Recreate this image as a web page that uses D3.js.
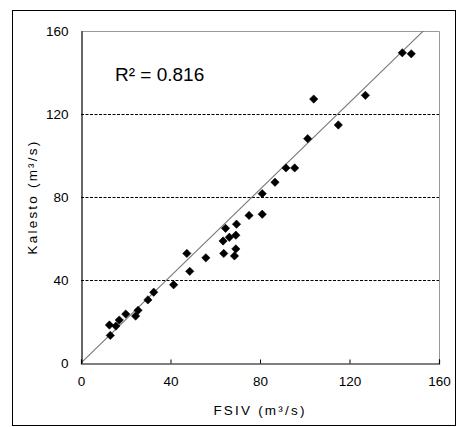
<!DOCTYPE html>
<html>
<head>
<meta charset="utf-8">
<script src="https://cdn.jsdelivr.net/npm/d3@7"></script>
<style>
  html, body { margin: 0; padding: 0; background: #fff; }
  svg { display: block; font-family: Arial, "Liberation Sans", sans-serif; }
</style>
</head>
<body>
<div id="chart"></div>
<script>
// FSIV vs Kalesto discharge (m3/s)
const fsiv = [12.7, 13.1, 15.6, 17.1, 20.0, 24.4, 25.5, 29.9, 32.5, 41.4, 47.3, 48.6,
  55.8, 63.5, 64.6, 63.8, 66.3, 69.2, 69.5, 69.2, 68.6, 75.1, 81.0, 81.0,
  86.7, 91.6, 95.5, 101.3, 104.0, 115.0, 127.1, 143.6, 147.6];
const kalesto = [18.3, 13.3, 17.8, 20.7, 23.6, 22.6, 25.4, 30.4, 34.1, 37.7, 52.8, 44.2,
  50.7, 58.8, 64.9, 52.8, 60.6, 61.6, 66.9, 55.0, 51.6, 71.1, 71.7, 81.6,
  87.1, 94.0, 94.0, 108.1, 127.2, 114.7, 129.0, 149.5, 149.0];
const ticks = [0, 40, 80, 120, 160];
const gridTicks = [40, 80, 120];
const slope = 1.046;   // fitted line through origin
const r2Label = 'R² = 0.816';

const width = 457, height = 427;
const margin = { left: 81, right: 18, top: 31, bottom: 64 };

const svg = d3.select('#chart').append('svg')
  .attr('width', width)
  .attr('height', height);

// outer frame
svg.append('rect')
  .attr('x', 12.5).attr('y', 10.5)
  .attr('width', 443).attr('height', 415)
  .attr('fill', 'none')
  .attr('stroke', '#000')
  .attr('stroke-width', 1);

const x = d3.scaleLinear().domain([0, 160]).range([margin.left, width - margin.right]);
const y = d3.scaleLinear().domain([0, 160]).range([height - margin.bottom, margin.top]);

// top and right border of the plot area
svg.append('path')
  .attr('d', `M${x(0)},${y(160) + 0.5}H${x(160) + 0.5}V${y(0)}`)
  .attr('fill', 'none')
  .attr('stroke', '#999')
  .attr('stroke-width', 1);

// dashed gridlines
svg.append('g')
  .selectAll('line')
  .data(gridTicks)
  .join('line')
  .attr('x1', x(0)).attr('x2', x(160))
  .attr('y1', d => Math.round(y(d)) + 0.5)
  .attr('y2', d => Math.round(y(d)) + 0.5)
  .attr('stroke', '#000')
  .attr('stroke-width', 1)
  .attr('stroke-dasharray', '3,1.5');

// fitted line, clipped to the plot
svg.append('clipPath').attr('id', 'plot-clip')
  .append('rect')
  .attr('x', x(0)).attr('y', y(160))
  .attr('width', x(160) - x(0)).attr('height', y(0) - y(160));

svg.append('line')
  .attr('clip-path', 'url(#plot-clip)')
  .attr('x1', x(0)).attr('y1', y(0))
  .attr('x2', x(160)).attr('y2', y(160 * slope))
  .attr('stroke', '#777')
  .attr('stroke-width', 1.1);

// x axis
const xAxis = svg.append('g')
  .attr('transform', `translate(0,${y(0) + 0.5})`)
  .call(d3.axisBottom(x).tickValues(ticks).tickSize(-4).tickPadding(13));
xAxis.select('.domain').attr('stroke', '#000').attr('stroke-width', 1.2);
xAxis.selectAll('line').attr('stroke', '#000');
xAxis.selectAll('text').attr('font-size', '13.5px').attr('fill', '#000')
  .attr('font-family', 'Arial, "Liberation Sans", sans-serif');

// y axis
const yAxis = svg.append('g')
  .attr('transform', `translate(${x(0) + 0.5},0)`)
  .call(d3.axisLeft(y).tickValues(ticks).tickSize(0).tickPadding(13));
yAxis.select('.domain').attr('stroke', '#000').attr('stroke-width', 1.2);
yAxis.selectAll('text').attr('font-size', '13.5px').attr('fill', '#000')
  .attr('font-family', 'Arial, "Liberation Sans", sans-serif');

// points
svg.append('g')
  .selectAll('path')
  .data(fsiv.map((v, i) => [v, kalesto[i]]))
  .join('path')
  .attr('transform', d => `translate(${x(d[0])},${y(d[1])})`)
  .attr('d', d3.symbol(d3.symbolDiamond2, 44))
  .attr('fill', '#000')
  .attr('stroke', '#000')
  .attr('stroke-width', 0.6);

// R2 annotation
svg.append('text')
  .attr('x', 115)
  .attr('y', 81)
  .attr('font-size', '19px')
  .attr('fill', '#000')
  .text(r2Label);

// axis titles
svg.append('text')
  .attr('x', (x(0) + x(160)) / 2)
  .attr('y', 415)
  .attr('text-anchor', 'middle')
  .attr('font-size', '13.5px')
  .attr('letter-spacing', '2.2px')
  .attr('fill', '#000')
  .text('FSIV (m³/s)');

svg.append('text')
  .attr('transform', `translate(37,${(y(0) + y(160)) / 2}) rotate(-90)`)
  .attr('text-anchor', 'middle')
  .attr('font-size', '13.5px')
  .attr('letter-spacing', '2.2px')
  .attr('fill', '#000')
  .text('Kalesto (m³/s)');
</script>
</body>
</html>
